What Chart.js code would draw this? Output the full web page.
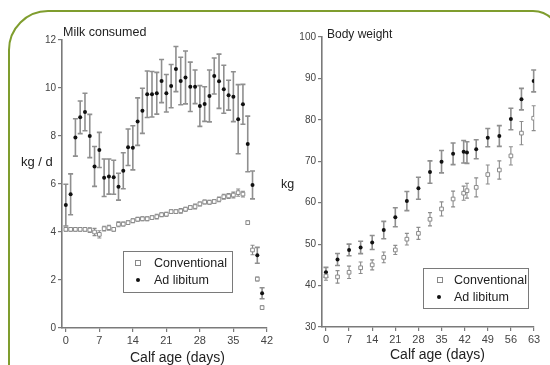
<!DOCTYPE html>
<html>
<head>
<meta charset="utf-8">
<script src="https://cdn.jsdelivr.net/npm/chart.js@4.4.1/dist/chart.umd.min.js"></script>
<style>
  html, body { margin:0; padding:0; background:#fff; width:550px; height:365px; overflow:hidden; font-family:"Liberation Sans", Arial, sans-serif; }
  #frame { position:absolute; left:8px; top:10px; width:553px; height:420px; border:2px solid #7f9d2e; border-top-left-radius:40px; border-top-right-radius:28px; box-sizing:border-box; }
  canvas { position:absolute; top:0; }
  .t { position:absolute; color:#222; white-space:nowrap; line-height:1; }
  .legend { position:absolute; border:1.5px solid #7a7a7a; background:#fff; box-sizing:border-box; }
  .li { position:absolute; font-size:12.5px; color:#222; line-height:1; white-space:nowrap; }
  .sq { position:absolute; width:4px; height:4px; border:1px solid #888; background:#fff; }
  .dot { position:absolute; width:4px; height:4px; border-radius:50%; background:#111; }
</style>
</head>
<body>
<div id="frame"></div>
<canvas id="milk" width="275" height="365" style="left:0"></canvas>
<canvas id="bw" width="275" height="365" style="left:275px"></canvas>

<div class="t" style="left:63px;top:26px;font-size:12.5px;">Milk consumed</div>
<div class="t" style="left:21px;top:155px;font-size:13px;">kg / d</div>
<div class="t" style="left:130px;top:350px;font-size:14px;">Calf age (days)</div>
<div class="legend" style="left:123px;top:251px;width:110px;height:42px;">
  <div class="sq" style="left:11px;top:8px;"></div>
  <div class="li" style="left:30px;top:5px;">Conventional</div>
  <div class="dot" style="left:12px;top:26px;"></div>
  <div class="li" style="left:30px;top:22px;">Ad libitum</div>
</div>

<div class="t" style="left:327px;top:28px;font-size:12px;">Body weight</div>
<div class="t" style="left:281px;top:178px;font-size:12.5px;">kg</div>
<div class="t" style="left:390px;top:347px;font-size:14px;">Calf age (days)</div>
<div class="legend" style="left:423px;top:268px;width:106px;height:41px;">
  <div class="sq" style="left:13px;top:8px;"></div>
  <div class="li" style="left:30px;top:5px;">Conventional</div>
  <div class="dot" style="left:13px;top:26px;"></div>
  <div class="li" style="left:30px;top:22px;">Ad libitum</div>
</div>

<script>
// ---------- Milk consumed (kg/d) ----------
const milkDays = [0,1,2,3,4,5,6,7,8,9,10,11,12,13,14,15,16,17,18,19,20,21,22,23,24,25,26,27,28,29,30,31,32,33,34,35,36,37,38,39,40,41];
const milkAdlib = [5.12,5.57,7.94,8.78,9.0,8.0,6.73,7.42,6.26,6.31,6.28,5.89,6.55,7.53,7.51,8.6,9.05,9.74,9.74,9.78,10.29,9.78,10.08,10.79,10.29,10.44,10.05,10.05,9.25,9.33,9.67,10.5,10.28,9.95,9.7,9.64,8.7,9.32,7.67,5.96,3.03,1.45];
const milkAdlibErr = [0.87,0.85,0.78,0.68,0.78,0.9,0.83,0.73,0.78,0.73,0.71,0.56,0.75,0.76,0.92,0.99,0.94,0.97,0.95,0.87,0.9,0.78,0.9,0.94,0.99,1.1,1.03,0.7,0.85,0.72,1.08,0.75,1.13,1.0,0.62,1.04,1.44,0.83,1.16,0.58,0.33,0.23];
const milkConv = [4.11,4.11,4.11,4.11,4.11,4.08,4.0,3.9,4.14,4.18,4.11,4.32,4.33,4.39,4.47,4.53,4.55,4.55,4.6,4.64,4.72,4.74,4.85,4.85,4.88,4.95,5.02,5.06,5.17,5.25,5.24,5.27,5.36,5.47,5.5,5.54,5.64,5.58,4.39,3.25,2.04,0.85];
const milkConvErr = [0.08,0.08,0.08,0.08,0.08,0.1,0.15,0.15,0.1,0.1,0.08,0.1,0.08,0.08,0.08,0.08,0.08,0.08,0.08,0.1,0.08,0.08,0.08,0.08,0.1,0.08,0.08,0.1,0.08,0.08,0.08,0.08,0.1,0.1,0.1,0.12,0.15,0.12,0.08,0.2,0.08,0.08];
const milkXTicks = [0,7,14,21,28,35,42];
const milkYTicks = [0,2,4,6,8,10,12];

// ---------- Body weight (kg) ----------
const bwDays = [0,3.5,7,10.5,14,17.5,21,24.5,28,31.5,35,38.5,41.7,42.7,45.5,49,52.5,56,59.2,62.9];
const bwAdlib = [43.2,46.3,48.6,49.2,50.4,53.4,56.5,60.4,63.5,67.4,69.9,71.8,72.3,72.1,72.9,75.7,76.1,80.2,85.0,89.4];
const bwAdlibErr = [1.2,1.45,1.4,1.5,1.7,2.1,2.3,2.3,2.65,2.7,2.7,2.6,2.7,2.6,2.3,2.2,2.5,2.6,2.6,2.65];
const bwConv = [42.3,42.1,43.2,44.3,45.0,46.8,48.6,51.2,52.6,56.0,58.5,60.9,62.3,62.9,63.7,66.8,67.9,71.3,76.8,80.4];
const bwConvErr = [1.0,1.5,1.5,1.4,1.2,1.3,1.1,1.4,1.45,1.6,1.7,1.9,1.7,1.8,2.3,2.3,2.2,2.2,2.8,3.0];
const bwXTicks = [0,7,14,21,28,35,42,49,56,63];
const bwYTicks = [30,40,50,60,70,80,90,100];

const seriesNames = ['Conventional','Ad libitum'];

const errorBars = {
  id: 'errorBars',
  beforeDatasetsDraw(chart) {
    const ctx = chart.ctx, xs = chart.scales.x, ys = chart.scales.y;
    chart.data.datasets.forEach(ds => {
      if (!ds.errors) return;
      ctx.save();
      ctx.strokeStyle = ds.errColor;
      ctx.lineWidth = ds.errWidth;
      const cap = ds.capHalf;
      ds.data.forEach((p, i) => {
        const e = ds.errors[i];
        if (!e) return;
        const x = xs.getPixelForValue(p.x);
        const y1 = ys.getPixelForValue(p.y + e);
        const y2 = ys.getPixelForValue(p.y - e);
        ctx.beginPath();
        ctx.moveTo(x, y1); ctx.lineTo(x, y2);
        ctx.moveTo(x - cap, y1); ctx.lineTo(x + cap, y1);
        ctx.moveTo(x - cap, y2); ctx.lineTo(x + cap, y2);
        ctx.stroke();
      });
      ctx.restore();
    });
  }
};

function pts(xs, ys) { return xs.map((x, i) => ({x: x, y: ys[i]})); }

function axisCommon(ticksArr, fontSize, extra) {
  return Object.assign({
    type: 'linear',
    afterBuildTicks: s => { s.ticks = ticksArr.map(v => ({value: v})); },
    grid: { display: true, drawOnChartArea: false, drawTicks: true, tickLength: 4, color: '#7a7a7a', lineWidth: 1.2 },
    border: { display: true, color: '#7a7a7a', width: 1.6 },
    ticks: { color: '#444', font: { family: 'Liberation Sans, Arial, sans-serif', size: fontSize }, padding: 2, maxRotation: 0, autoSkip: false }
  }, extra);
}

function makeChart(id, cfg) {
  return new Chart(document.getElementById(id), {
    type: 'scatter',
    data: { datasets: [
      { label: seriesNames[0], data: pts(cfg.days, cfg.conv), errors: cfg.convErr,
        errColor: '#8c8c8c', errWidth: 1.1, capHalf: 2,
        pointStyle: 'rect', pointRadius: cfg.sqR, backgroundColor: '#fff', borderColor: '#8a8a8a', borderWidth: 1 },
      { label: seriesNames[1], data: pts(cfg.days, cfg.adlib), errors: cfg.adlibErr,
        errColor: '#8f8f8f', errWidth: 1.6, capHalf: 2.5,
        pointStyle: 'circle', pointRadius: cfg.dotR, backgroundColor: '#111', borderColor: '#111', borderWidth: 0 }
    ]},
    options: {
      responsive: false, animation: false, devicePixelRatio: 1,
      layout: { padding: cfg.padding },
      plugins: { legend: { display: false }, tooltip: { enabled: false } },
      scales: {
        x: axisCommon(cfg.xTicks, 11, { min: cfg.xMin, max: cfg.xMax, afterFit: s => { s.height = cfg.xH; } }),
        y: axisCommon(cfg.yTicks, 10, { min: cfg.yMin, max: cfg.yMax, afterFit: s => { s.width = cfg.yW; } })
      }
    },
    plugins: [errorBars]
  });
}

makeChart('milk', {
  days: milkDays, conv: milkConv, convErr: milkConvErr, adlib: milkAdlib, adlibErr: milkAdlibErr,
  xTicks: milkXTicks, yTicks: milkYTicks, xMin: -0.8, xMax: 42, yMin: 0, yMax: 12,
  padding: { top: 40, right: 8, left: 0, bottom: 0 }, xH: 37, yW: 62, sqR: 2.6, dotR: 2
});

makeChart('bw', {
  days: bwDays, conv: bwConv, convErr: bwConvErr, adlib: bwAdlib, adlibErr: bwAdlibErr,
  xTicks: bwXTicks, yTicks: bwYTicks, xMin: -1.2, xMax: 63, yMin: 30, yMax: 100,
  padding: { top: 37, right: 16, left: 0, bottom: 0 }, xH: 38, yW: 47, sqR: 2.6, dotR: 2
});
</script>
</body>
</html>
